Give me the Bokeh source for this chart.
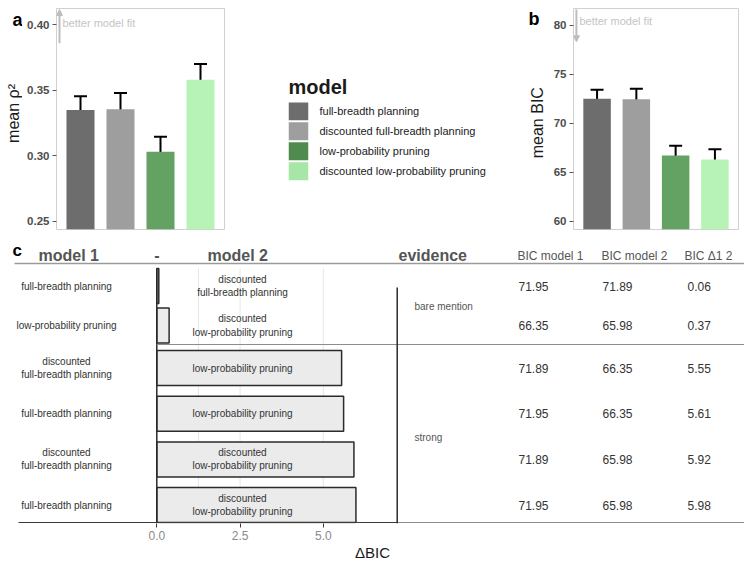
import math

from bokeh.plotting import figure
from bokeh.layouts import column, row
from bokeh.models import (Range1d, FixedTicker, PrintfTickFormatter, Whisker, TeeHead,
                          ColumnDataSource, Label, Arrow, NormalHead)
from bokeh.embed import file_html
from bokeh.resources import INLINE
from bokeh.core.properties import value

FONT = "Liberation Sans"

# ---- model families -------------------------------------------------------
models = ["full-breadth planning", "discounted full-breadth planning",
          "low-probability pruning", "discounted low-probability pruning"]
bar_colors = ["#6d6d6d", "#9e9e9e", "#64a264", "#b7f3b7"]
legend_colors = ["#6d6d6d", "#9e9e9e", "#4f8b4f", "#a6e6a6"]

# ---- panel a: mean rho^2 with error bars ---------------------------------
rho2_mean = [0.335, 0.3355, 0.303, 0.358]
rho2_low = [0.324, 0.3237, 0.2926, 0.3461]
rho2_high = [0.3455, 0.348, 0.3144, 0.3701]
rho2_ticks = [0.25, 0.30, 0.35, 0.40]

# ---- panel b: mean BIC with error bars -----------------------------------
bic_mean = [72.5, 72.45, 66.7, 66.3]
bic_low = [71.6, 71.45, 65.8, 65.4]
bic_high = [73.4, 73.5, 67.7, 67.35]
bic_ticks = [60, 65, 70, 75, 80]

# ---- panel c: pairwise model comparison ----------------------------------
cmp_model1 = ["full-breadth planning", "low-probability pruning",
              "discounted\nfull-breadth planning", "full-breadth planning",
              "discounted\nfull-breadth planning", "full-breadth planning"]
cmp_model2 = ["discounted\nfull-breadth planning", "discounted\nlow-probability pruning",
              "low-probability pruning", "low-probability pruning",
              "discounted\nlow-probability pruning", "discounted\nlow-probability pruning"]
cmp_evidence = ["bare mention", "bare mention", "strong", "strong", "strong", "strong"]
bic_model1 = [71.95, 66.35, 71.89, 71.95, 71.89, 71.95]
bic_model2 = [71.89, 65.98, 66.35, 66.35, 65.98, 65.98]
delta_bic = [0.06, 0.37, 5.55, 5.61, 5.92, 5.98]
delta_ticks = [0.0, 2.5, 5.0]
delta_grid = [1.25, 2.5, 5.0]

TEXT_DARK = "#333333"
TEXT_GREY = "#555555"


def blank(width, x0, x1):
    """A bare canvas whose data units are pixels (y grows downward)."""
    f = figure(width=width, height=240, x_range=Range1d(x0, x1), y_range=Range1d(240, 0),
               x_axis_location=None, y_axis_location=None, output_backend="svg",
               toolbar_location=None, min_border=0)
    f.grid.visible = False
    f.outline_line_color = None
    return f


def bar_panel(means, lows, highs, yr, ticks, fmt, width, b_left, b_right, b_top, b_bottom):
    p = figure(width=width, height=240, x_range=Range1d(0.4, 4.6), y_range=Range1d(*yr),
               x_axis_location=None, output_backend="svg", toolbar_location=None,
               min_border_left=b_left, min_border_right=b_right,
               min_border_top=b_top, min_border_bottom=b_bottom)
    p.grid.visible = False
    p.outline_line_color = "#d0d0d0"
    p.outline_line_width = 1
    xs = list(range(1, len(means) + 1))
    p.vbar(x=xs, top=means, bottom=yr[0], width=0.7, fill_color=bar_colors, line_color=None)
    src = ColumnDataSource(dict(x=xs, lower=lows, upper=highs))
    p.add_layout(Whisker(base="x", lower="lower", upper="upper", source=src, dimension="height",
                         line_color="black", line_width=2,
                         upper_head=TeeHead(size=13, line_color="black", line_width=2),
                         lower_head=TeeHead(size=13, line_color="black", line_width=2)))
    ax = p.yaxis[0]
    ax.ticker = FixedTicker(ticks=ticks)
    ax.formatter = PrintfTickFormatter(format=fmt)
    ax.axis_line_color = None
    ax.minor_tick_line_color = None
    ax.major_tick_in = 0
    ax.major_tick_out = 4
    ax.major_tick_line_color = "#555555"
    ax.major_label_standoff = 3
    ax.major_label_text_font = FONT
    ax.major_label_text_font_style = "bold"
    ax.major_label_text_font_size = "11.5px"
    ax.major_label_text_color = "#4d4d4d"
    return p


side_text = dict(text_font=value(FONT), text_baseline="middle")

# strip left of panel a: panel letter and y-axis title
strip_a = blank(22, 0, 22)
strip_a.text(x=12, y=12.5, text=["a"], text_font_style="bold", text_font_size="18px",
             text_color="black", **side_text)
strip_a.text(x=13, y=114, text=["mean ρ²"], angle=math.pi / 2, text_align="center",
             text_font_size="16px", text_color="#1a1a1a", **side_text)

# panel a
pa = bar_panel(rho2_mean, rho2_low, rho2_high, (0.2435, 0.4126), rho2_ticks, "%.2f",
               228, 34, 26, 7, 11)
pa.add_layout(Arrow(x_start=0.475, y_start=0.386, x_end=0.475, y_end=0.4118,
                    line_color="#bdbdbd", line_width=2,
                    end=NormalHead(size=6, fill_color="#bdbdbd", line_color="#bdbdbd")))
pa.add_layout(Label(x=0.55, y=0.4017, text="better model fit", text_baseline="middle",
                    text_font=FONT, text_font_size="11px", text_color="#c4c4c4"))

# legend block plus panel b's letter and y-axis title
leg = blank(300, 250, 550)
sw_y = [111.7 + i * 21.7 for i in range(len(models))]
leg.rect(x=298, y=sw_y, width=19.5, height=19.5, fill_color=legend_colors, line_color=None)
leg.text(x=319, y=sw_y, text=models, text_font_size="11px", text_color="#1a1a1a", **side_text)
leg.text(x=288, y=85, text=["model"], text_font_style="bold", text_font_size="20px",
         text_color="#1a1a1a", **side_text)
leg.text(x=528, y=11, text=["b"], text_font_style="bold", text_font_size="18px",
         text_color="black", **side_text)
leg.text(x=537, y=124, text=["mean BIC"], angle=math.pi / 2, text_align="center",
         text_font_size="16px", text_color="#1a1a1a", **side_text)

# panel b
pb = bar_panel(bic_mean, bic_low, bic_high, (59.16, 81.69), bic_ticks, "%d",
               194, 18, 6, 8, 9)
pb.add_layout(Arrow(x_start=0.474, y_start=81.6, x_end=0.474, y_end=78.3,
                    line_color="#bdbdbd", line_width=2,
                    end=NormalHead(size=6, fill_color="#bdbdbd", line_color="#bdbdbd")))
pb.add_layout(Label(x=0.55, y=80.43, text="better model fit", text_baseline="middle",
                    text_font=FONT, text_font_size="11px", text_color="#c4c4c4"))

# panel c: comparison table with ΔBIC bars
X0, PXU = 156.3, 33.3


def dx(px):
    return (px - X0) / PXU


pc = figure(width=744, height=323, x_range=Range1d(dx(0), dx(744)), y_range=Range1d(523, 240),
            y_axis_location=None, output_backend="svg", toolbar_location=None,
            min_border_left=0, min_border_right=0, min_border_top=0, min_border_bottom=40)
pc.grid.visible = False
pc.outline_line_color = None

BAR_H = 35
band_top = {"bare mention": 268, "strong": 350}
pitch = {"bare mention": 39.5, "strong": 45.7}
row_y, seen = [], {}
for ev in cmp_evidence:
    k = seen.get(ev, 0)
    seen[ev] = k + 1
    row_y.append(band_top[ev] + BAR_H / 2 + k * pitch[ev])
bar_area_top = band_top["bare mention"]
bar_area_bottom = 522

pc.segment(x0=delta_grid, x1=delta_grid, y0=bar_area_top, y1=bar_area_bottom,
           line_color="#e6e6e6", line_width=1)
pc.hbar(y=row_y, left=0, right=delta_bic, height=BAR_H, fill_color="#ebebeb",
        line_color="#2b2b2b", line_width=1.5)
# zero line
pc.segment(x0=0, x1=0, y0=bar_area_top, y1=bar_area_bottom, line_color="#2b2b2b", line_width=1.5)
# rules
sep_y = band_top["strong"] - 6
pc.segment(x0=0, x1=dx(744), y0=sep_y, y1=sep_y, line_color="#8c8c8c", line_width=1.2)
pc.segment(x0=dx(14), x1=dx(744), y0=263, y1=263, line_color="#9a9a9a", line_width=1.5)
pc.segment(x0=dx(18), x1=dx(397), y0=bar_area_bottom, y1=bar_area_bottom,
           line_color="#3a3a3a", line_width=1.2)
pc.segment(x0=dx(397), x1=dx(744), y0=bar_area_bottom, y1=bar_area_bottom,
           line_color="#8c8c8c", line_width=1.2)
pc.segment(x0=dx(396.7), x1=dx(396.7), y0=287, y1=523, line_color="#2b2b2b", line_width=1.5)

common = dict(text_font=value(FONT), text_baseline="middle")
pc.text(x=dx(66), y=row_y, text=cmp_model1, text_align="center", text_font_size="10px",
        text_color=TEXT_DARK, **common)
pc.text(x=dx(242), y=row_y, text=cmp_model2, text_align="center", text_font_size="10px",
        text_color=TEXT_DARK, **common)
pc.text(x=dx(518), y=row_y, text=[f"{v:.2f}" for v in bic_model1], text_font_size="12px",
        text_color=TEXT_DARK, **common)
pc.text(x=dx(602), y=row_y, text=[f"{v:.2f}" for v in bic_model2], text_font_size="12px",
        text_color=TEXT_DARK, **common)
pc.text(x=dx(687), y=row_y, text=[f"{v:.2f}" for v in delta_bic], text_font_size="12px",
        text_color=TEXT_DARK, **common)

ev_names = list(dict.fromkeys(cmp_evidence))
ev_y = []
for ev in ev_names:
    ys = [y for y, e in zip(row_y, cmp_evidence) if e == ev]
    ev_y.append((min(ys) + max(ys)) / 2 + 1)
pc.text(x=dx(414), y=ev_y, text=ev_names, text_font_size="10px", text_color=TEXT_GREY, **common)

# headers
pc.text(x=dx(12), y=249.5, text=["c"], text_font_style="bold", text_font_size="17px",
        text_color="black", **common)
pc.text(x=[dx(38), dx(207), dx(398)], y=255, text=["model  1", "model  2", "evidence"],
        text_font_style="bold", text_font_size="16px", text_color=TEXT_GREY, **common)
pc.text(x=0, y=254, text=["-"], text_align="center", text_font_style="bold",
        text_font_size="16px", text_color=TEXT_GREY, **common)
pc.text(x=[dx(517), dx(601), dx(684)], y=255, text=["BIC model 1", "BIC model 2", "BIC Δ1 2"],
        text_font_size="12px", text_color=TEXT_GREY, **common)

xa = pc.xaxis[0]
xa.ticker = FixedTicker(ticks=delta_ticks)
xa.formatter = PrintfTickFormatter(format="%.1f")
xa.axis_line_color = None
xa.minor_tick_line_color = None
xa.major_tick_in = 0
xa.major_tick_out = 4
xa.major_tick_line_color = "#3a3a3a"
xa.major_label_standoff = 3
xa.major_label_text_font = FONT
xa.major_label_text_font_size = "12px"
xa.major_label_text_color = "#8a8a8a"
xa.axis_label = "ΔBIC"
xa.axis_label_text_font = FONT
xa.axis_label_text_font_style = "normal"
xa.axis_label_text_font_size = "15px"
xa.axis_label_text_color = "#1a1a1a"
xa.axis_label_standoff = 1

layout = column(row(strip_a, pa, leg, pb, spacing=0), pc, spacing=0)
open("out.html", "w").write(file_html(layout, INLINE))
